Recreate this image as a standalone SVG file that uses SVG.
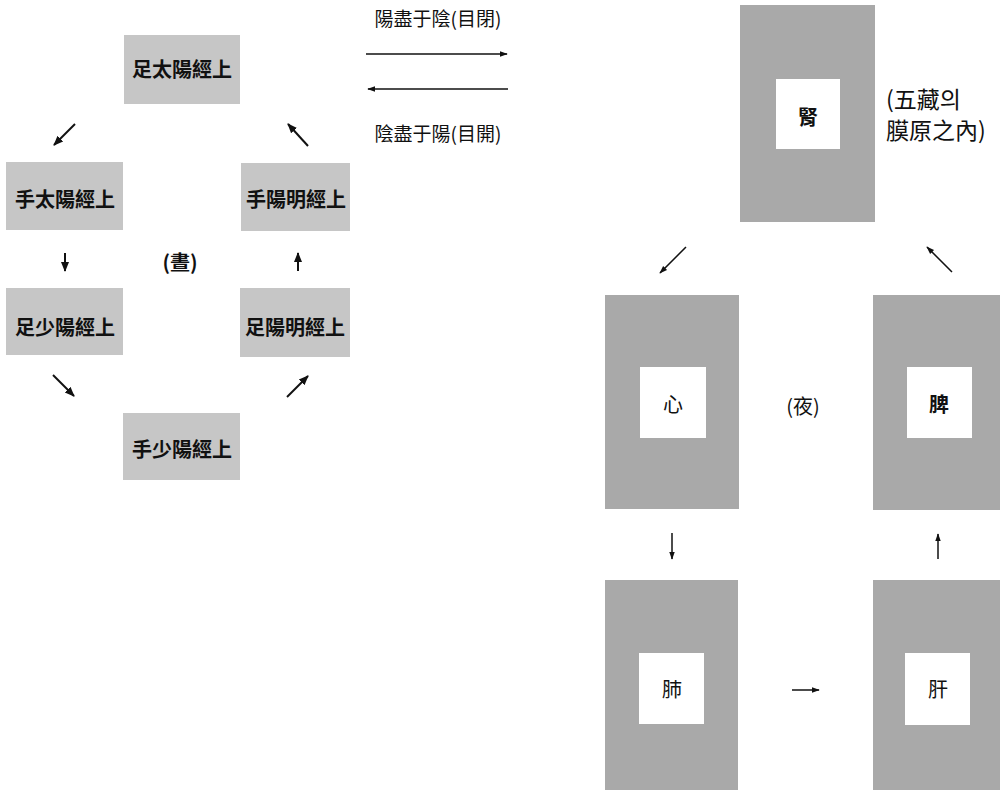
<svg xmlns="http://www.w3.org/2000/svg" width="1001" height="793" viewBox="0 0 1001 793">
<style>
.bg{fill:#ffffff}
.lbox{fill:#c6c6c6}
.rbox{fill:#a9a9a9}
.inner{fill:#ffffff}
.lt{font-family:"Noto Sans CJK TC","Noto Sans CJK KR",sans-serif;font-size:20px;font-weight:bold;fill:#111;text-anchor:middle}
.mt{font-family:"Noto Sans CJK TC","Noto Sans CJK KR",sans-serif;font-size:19px;fill:#111;text-anchor:middle}
.rt{font-family:"Noto Sans CJK TC","Noto Sans CJK KR",sans-serif;font-size:20px;fill:#111;text-anchor:middle}
.rb{font-weight:bold}
.nt{font-family:"Noto Sans CJK TC","Noto Sans CJK KR",sans-serif;font-size:23px;fill:#111}
.ar{stroke:#111;stroke-width:2;fill:none;marker-end:url(#ah)}
.ar2{stroke:#111;stroke-width:1.5;fill:none;marker-end:url(#ah2)}
</style>
<defs>
<marker id="ah" markerUnits="userSpaceOnUse" markerWidth="10" markerHeight="10" viewBox="0 0 10 10" refX="9" refY="5" orient="auto">
<path d="M0,1 L10,5 L0,9 Z" fill="#111"/>
</marker>
<marker id="ah2" markerUnits="userSpaceOnUse" markerWidth="8" markerHeight="8" viewBox="0 0 10 10" refX="9" refY="5" orient="auto">
<path d="M0,1.5 L10,5 L0,8.5 Z" fill="#111"/>
</marker>
</defs>
<rect class="bg" x="0" y="0" width="1001" height="793"/>

<g id="n-zutaiyang"><rect class="lbox" x="124" y="35" width="116" height="69"/><text class="lt" x="182" y="77">足太陽經上</text></g>
<g id="n-shoutaiyang"><rect class="lbox" x="6" y="162" width="117" height="68"/><text class="lt" x="65" y="207">手太陽經上</text></g>
<g id="n-shouyangming"><rect class="lbox" x="241" y="163" width="109" height="68"/><text class="lt" x="296" y="207">手陽明經上</text></g>
<g id="n-zushaoyang"><rect class="lbox" x="6" y="288" width="117" height="67"/><text class="lt" x="65" y="335">足少陽經上</text></g>
<g id="n-zuyangming"><rect class="lbox" x="240" y="288" width="110" height="69"/><text class="lt" x="295" y="335">足陽明經上</text></g>
<g id="n-shoushaoyang"><rect class="lbox" x="123" y="413" width="117" height="67"/><text class="lt" x="182" y="457">手少陽經上</text></g>
<g id="n-day"><text class="lt" x="180" y="270">(晝)</text></g>

<g id="n-label-top"><text class="mt" x="438" y="26">陽盡于陰(目閉)</text></g>
<g id="n-label-bottom"><text class="mt" x="438" y="141">陰盡于陽(目開)</text></g>

<g id="n-shen"><rect class="rbox" x="740" y="5" width="135" height="217"/><rect class="inner" x="776" y="79" width="64" height="70"/><text class="rt rb" x="808" y="125">腎</text></g>
<g id="n-note"><text class="nt" x="886" y="108">(五藏의</text><text class="nt" x="886" y="139">膜原之內)</text></g>
<g id="n-xin"><rect class="rbox" x="605" y="295" width="134" height="214"/><rect class="inner" x="640" y="367" width="66" height="71"/><text class="rt" x="673" y="412">心</text></g>
<g id="n-night"><text class="rt" x="803" y="414">(夜)</text></g>
<g id="n-pi"><rect class="rbox" x="873" y="295" width="127" height="215"/><rect class="inner" x="907" y="367" width="65" height="71"/><text class="rt rb" x="939" y="412">脾</text></g>
<g id="n-fei"><rect class="rbox" x="605" y="580" width="133" height="210"/><rect class="inner" x="639" y="653" width="65" height="71"/><text class="rt" x="672" y="697">肺</text></g>
<g id="n-gan"><rect class="rbox" x="873" y="580" width="127" height="210"/><rect class="inner" x="905" y="653" width="65" height="72"/><text class="rt" x="938" y="697">肝</text></g>

<g id="connectors">
<line class="ar" x1="75" y1="124" x2="54" y2="145"/>
<line class="ar" x1="308" y1="146" x2="288" y2="124"/>
<line class="ar" x1="65" y1="253" x2="65" y2="271"/>
<line class="ar" x1="298" y1="271" x2="298" y2="253"/>
<line class="ar" x1="53" y1="375" x2="74" y2="396"/>
<line class="ar" x1="287" y1="397" x2="308" y2="376"/>
<line class="ar2" x1="366" y1="54" x2="507" y2="54"/>
<line class="ar2" x1="508" y1="89" x2="368" y2="89"/>
<line class="ar2" x1="686" y1="247" x2="660" y2="273"/>
<line class="ar2" x1="952" y1="272" x2="927" y2="247"/>
<line class="ar2" x1="672" y1="533" x2="672" y2="559"/>
<line class="ar2" x1="938" y1="559" x2="938" y2="534"/>
<line class="ar2" x1="792" y1="690" x2="819" y2="690"/>
</g>
</svg>
